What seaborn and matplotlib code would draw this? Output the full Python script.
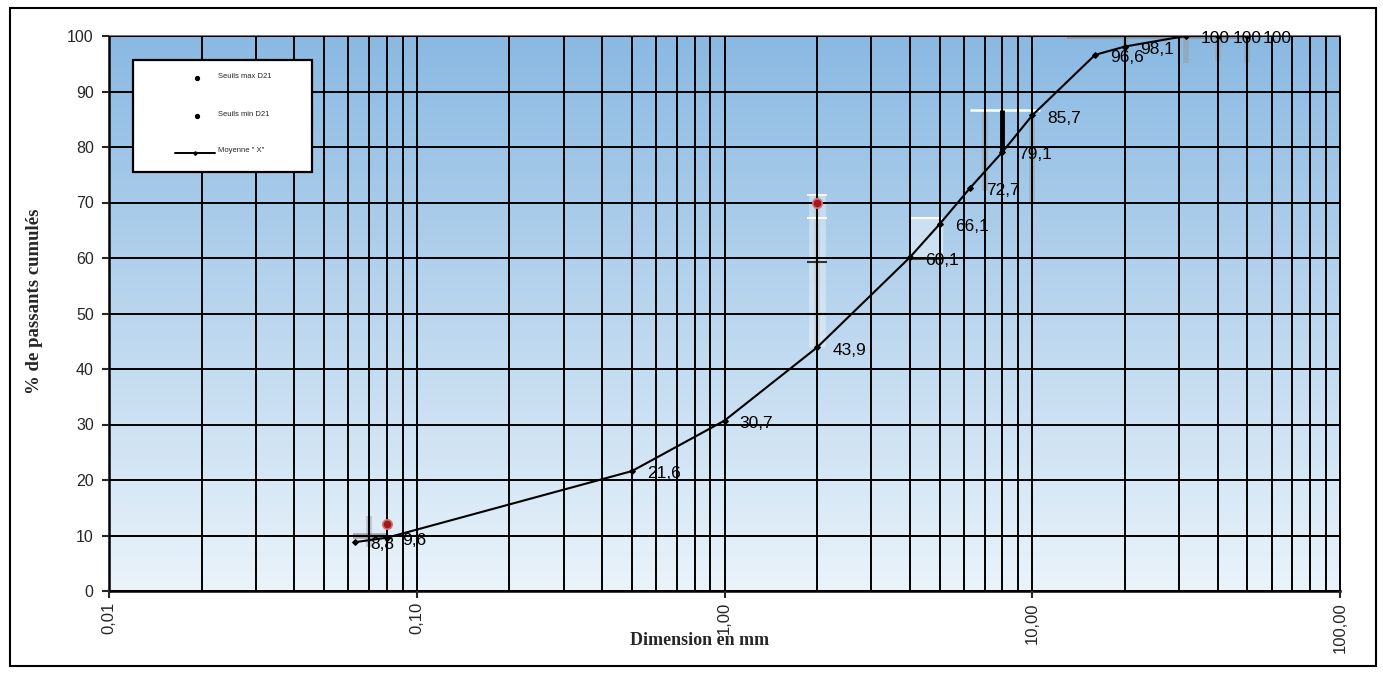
import numpy as np
import pandas as pd
import matplotlib
matplotlib.use("Agg")
import matplotlib.pyplot as plt
import seaborn as sns
from matplotlib.lines import Line2D
from matplotlib.patches import Rectangle

# ---------------- data ----------------
sieve_mm = [0.063, 0.08, 0.5, 1, 2, 4, 5, 6.3, 8, 10, 16, 20, 31.5, 40, 50]
passing = [8.8, 9.6, 21.6, 30.7, 43.9, 60.1, 66.1, 72.7, 79.1, 85.7, 96.6, 98.1, 100, 100, 100]
point_labels = ["8,8", "9,6", "21,6", "30,7", "43,9", "60,1", "66,1", "72,7", "79,1",
                "85,7", "96,6", "98,1", "100", "100", "100"]

seuil_max_x = [0.08, 2]
seuil_max_y = [12, 70]

# faint envelope bars (x, low, high)
env_x = [0.07, 2, 7, 10, 20, 31.5, 40, 50]
env_low = [8, 44, 72, 70, 96.8, 95.2, 95.5, 95.2]
env_high = [13.5, 71.3, 87, 87, 100, 100, 100, 100]
cap_y = [71.3, 67.2, 59.2, 49.9]

x_ticks = [0.01, 0.1, 1, 10, 100]
x_tick_labels = ["0,01", "0,10", "1,00", "10,00", "100,00"]
y_ticks = list(range(0, 101, 10))

legend_labels = ["Seuils max D21", "Seuils min D21", 'Moyenne " X"']

df = pd.DataFrame({"d": sieve_mm, "p": passing})
dfmax = pd.DataFrame({"d": seuil_max_x, "p": seuil_max_y})

sns.set_style("white")
plt.rcParams["font.family"] = ["Liberation Sans", "DejaVu Sans"]

W, H = 1383, 675
L, R, T, B = 109, 1340, 36, 591
fig = plt.figure(figsize=(W / 100, H / 100), dpi=100)
ax = fig.add_axes([L / W, 1 - B / H, (R - L) / W, (B - T) / H])
ax.set_xscale("log")
ax.set_xlim(0.01, 100)
ax.set_ylim(0, 100)


def axc(px, py):
    return ((px - L) / (R - L), (B - py) / (B - T))


# gradient background
top = np.array([138, 185, 226]) / 255
bot = np.array([234, 243, 250]) / 255
t = np.linspace(0, 1, 256)[:, None]
grad = (top[None, :] * (1 - t) + bot[None, :] * t)[:, None, :]
ax.imshow(grad, extent=[0, 1, 0, 1], transform=ax.transAxes, aspect="auto", zorder=0)

# ticks & grid
ax.set_xticks(x_ticks)
ax.set_xticklabels(x_tick_labels, rotation=90, fontsize=12)
ax.set_yticks(y_ticks)
ax.tick_params(axis="y", labelsize=11.5, length=5, width=1.5, direction="out", left=True, pad=6)
ax.tick_params(axis="x", which="major", length=5, width=1.5, direction="out", bottom=True, pad=3)
ax.tick_params(axis="x", which="minor", length=0)
minor = [m * 10.0 ** e for e in range(-2, 2) for m in range(2, 10)]
ax.set_xticks(minor, minor=True)
ax.xaxis.set_minor_formatter(matplotlib.ticker.NullFormatter())
ax.grid(True, which="both", axis="x", color="black", lw=1.4, zorder=1)
ax.grid(True, which="major", axis="y", color="black", lw=1.4, zorder=1)
ax.set_axisbelow(False)

# faint envelope elements
ax.vlines(env_x, env_low, env_high, colors="#9a9a9a", lw=4, alpha=0.5, zorder=2)
ax.vlines([2], [44], [71.3], colors="white", lw=12, alpha=0.35, zorder=2)
ax.hlines(cap_y, [1.85] * 4, [2.16] * 4, colors=["#f4f4f4", "white", "#333333", "#444444"], lw=1.5, zorder=2)
ax.fill_between([4, 5.1], [60, 60], [67.2, 67.2], color="white", alpha=0.4, zorder=2)
ax.hlines([67.2], [4], [5.1], colors="white", lw=1.5, zorder=2)
ax.hlines([60], [4], [5.1], colors="#333333", lw=2, zorder=2)
ax.hlines([86.7], [6.3], [10.6], colors="white", lw=1.8, zorder=2)
ax.vlines([8], [79], [86.7], colors="black", lw=3.5, zorder=2)
ax.hlines([100], [13], [50], colors="#888888", lw=4, alpha=0.7, zorder=2)
ax.hlines([9.9], [0.062], [0.08], colors="#777777", lw=4, alpha=0.6, zorder=2)

# curve
sns.lineplot(data=df, x="d", y="p", ax=ax, color="black", lw=1.5, marker="D",
             markersize=3, markeredgecolor="black", zorder=4, legend=False)
sns.scatterplot(data=dfmax, x="d", y="p", ax=ax, color="#a01818", s=45, edgecolor="#d07070",
                linewidth=1.2, zorder=5, legend=False)

for x, y, lab in zip(sieve_mm, passing, point_labels):
    ax.annotate(lab, (x, y), xytext=(11, -2), textcoords="offset points", fontsize=12.5,
                va="center", ha="left", color="black", zorder=6)

for s in ["left", "bottom"]:
    ax.spines[s].set_color("black")
    ax.spines[s].set_linewidth(1.8)
ax.spines["top"].set_color("#777777")
ax.spines["top"].set_linewidth(1.5)
ax.spines["right"].set_color("black")
ax.spines["right"].set_linewidth(1.4)

serif = ["Liberation Serif", "DejaVu Serif"]
ax.set_xlabel("Dimension en mm", fontsize=13, fontweight="bold", family=serif)
ax.xaxis.set_label_coords(*axc(700, 632))
ax.xaxis.label.set_va("top")
ax.set_ylabel("% de passants cumulés", fontsize=13.5, fontweight="bold", family=serif)
ax.yaxis.set_label_coords(*axc(35, 301))
ax.yaxis.label.set_va("center")

# legend box (drawn as artists in axes coordinates)
x0, y0 = axc(133, 172)
x1, y1 = axc(312, 60)
ax.add_patch(Rectangle((x0, y0), x1 - x0, y1 - y0, transform=ax.transAxes,
                       facecolor="white", edgecolor="black", lw=1.6, zorder=10))
rows_y = [78, 116, 153]
for i, (lab, py) in enumerate(zip(legend_labels, rows_y)):
    if i < 2:
        mx, my = axc(197, py)
        ax.add_line(Line2D([mx], [my], transform=ax.transAxes, ls="none", marker="o",
                           color="black", markersize=2.8, zorder=11))
    else:
        lx0, ly = axc(175, py)
        lx1, _ = axc(215, py)
        ax.add_line(Line2D([lx0, lx1], [ly, ly], transform=ax.transAxes, color="black",
                           lw=1.4, zorder=11))
        ax.add_line(Line2D([(lx0 + lx1) / 2], [ly], transform=ax.transAxes, ls="none",
                           marker="D", color="black", markersize=1.8, zorder=11))
    tx, ty = axc(218, py - 2)
    ax.text(tx, ty, lab, transform=ax.transAxes, fontsize=5.5, va="center", ha="left",
            zorder=11)

# outer border
fig.patches.append(Rectangle((10 / W, 1 - 666 / H), 1366 / W, 658 / H,
                             transform=fig.transFigure, fill=False, edgecolor="black", lw=1.5))

fig.savefig("out.png", dpi=100)
